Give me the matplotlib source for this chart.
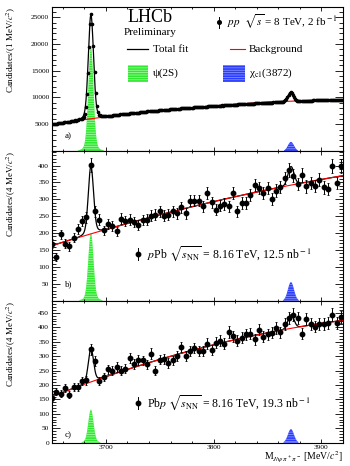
import numpy as np
import matplotlib
matplotlib.use("Agg")
import matplotlib.pyplot as plt
from matplotlib.ticker import MultipleLocator

plt.rcParams['font.family'] = ['Liberation Serif', 'DejaVu Serif']
plt.rcParams['mathtext.fontset'] = 'stix'
plt.rcParams['hatch.linewidth'] = 0.5

# mass window and binning
m_lo, m_hi = 3650, 3920

# pp 8 TeV, 1 MeV bins starting at 3650
counts_a = [
    4980, 5070, 5050, 5130, 5110, 5190, 5170, 5240, 5230, 5310,
    5290, 5360, 5350, 5430, 5410, 5480, 5470, 5550, 5540, 5600,
    5610, 5700, 5690, 5790, 5800, 5900, 5930, 6060, 6130, 6400,
    6880, 8160, 10560, 14600, 19450, 23800, 25500, 23780, 19640, 14710,
    10860, 8400, 7290, 6760, 6640, 6530, 6550, 6500, 6540, 6510,
    6540, 6520, 6580, 6560, 6620, 6600, 6650, 6680, 6670, 6720,
    6720, 6790, 6770, 6830, 6840, 6850, 6900, 6880, 6940, 6950,
    7000, 6990, 7050, 7030, 7090, 7080, 7110, 7150, 7140, 7190,
    7190, 7250, 7240, 7290, 7280, 7320, 7340, 7330, 7390, 7380,
    7420, 7400, 7460, 7470, 7490, 7520, 7500, 7560, 7550, 7600,
    7600, 7640, 7630, 7670, 7690, 7680, 7720, 7740, 7730, 7770,
    7800, 7790, 7830, 7850, 7840, 7880, 7890, 7910, 7920, 7950,
    7960, 7970, 8000, 7990, 8030, 8040, 8050, 8080, 8070, 8110,
    8120, 8130, 8150, 8170, 8160, 8200, 8190, 8230, 8220, 8260,
    8270, 8280, 8300, 8290, 8330, 8340, 8330, 8370, 8380, 8390,
    8410, 8420, 8440, 8430, 8460, 8470, 8480, 8500, 8490, 8530,
    8540, 8550, 8570, 8560, 8590, 8600, 8610, 8630, 8620, 8660,
    8670, 8680, 8690, 8710, 8700, 8730, 8740, 8750, 8760, 8780,
    8790, 8800, 8810, 8830, 8820, 8850, 8860, 8870, 8880, 8900,
    8900, 8920, 8930, 8940, 8950, 8950, 8980, 8980, 9000, 9010,
    9020, 9030, 9040, 9060, 9050, 9080, 9080, 9100, 9100, 9120,
    9130, 9140, 9150, 9180, 9200, 9300, 9450, 9720, 10070, 10490,
    10800, 10940, 10820, 10530, 10130, 9800, 9550, 9420, 9350, 9330,
    9330, 9340, 9350, 9350, 9370, 9370, 9390, 9380, 9400, 9410,
    9420, 9420, 9440, 9440, 9450, 9460, 9460, 9480, 9480, 9490,
    9500, 9500, 9510, 9520, 9520, 9530, 9540, 9540, 9550, 9560,
    9560, 9570, 9580, 9580, 9590, 9600, 9600, 9610, 9620, 9620,
]

# pPb and Pbp 8.16 TeV, 4 MeV bins centred on 3650, 3654, ...
counts_b = [
    169, 129, 196, 169, 161, 186, 213, 235, 247, 402,
    264, 240, 208, 228, 222, 205, 243, 235, 240, 232,
    225, 238, 240, 252, 255, 264, 252, 255, 264, 259,
    276, 259, 296, 296, 296, 279, 318, 291, 269, 281,
    286, 279, 318, 264, 289, 289, 313, 343, 333, 318,
    333, 301, 326, 336, 363, 387, 370, 345, 372, 338,
    348, 340, 358, 335, 330, 399, 348, 399,
]
counts_c = [
    156, 177, 170, 190, 167, 194, 194, 213, 216, 323,
    283, 213, 228, 254, 250, 262, 250, 257, 294, 273,
    286, 285, 271, 309, 250, 288, 291, 277, 285, 302,
    331, 302, 317, 329, 317, 317, 343, 321, 346, 354,
    343, 384, 369, 354, 363, 376, 378, 358, 392, 367,
    376, 381, 398, 383, 411, 433, 444, 433, 378, 429,
    412, 402, 412, 412, 415, 444, 415, 436,
]

# fit components
psi_mass, psi_sigma, psi_tail_sigma, psi_tail_frac = 3686.1, 2.35, 5.5, 0.06
x_mass, x_sigma = 3871.7, 2.8
psi_peak = [19400, 200, 115]
x_peak = [1700, 55, 47]
bkg_mass = [3650, 3785, 3920]
bkg_a = [5000, 8185, 9620]
bkg_b = [163, 282, 370]
bkg_c = [160, 325, 424]

ylabels = ["Candidates/(1 MeV/$c^2$)", "Candidates/(4 MeV/$c^2$)", "Candidates/(4 MeV/$c^2$)"]
ymax = [26900, 443, 492]
yticks = [np.arange(5000, 25001, 5000), np.arange(50, 401, 50), np.arange(0, 451, 50)]
yminor = [1000, 10, 10]
panel_tags = ["a)", "b)", "c)"]
beam_labels = [
    None,
    r"$p$Pb $\sqrt{s_{\rm NN}}$ = 8.16 TeV, 12.5 nb$^{\rm -1}$",
    r"Pb$p$ $\sqrt{s_{\rm NN}}$ = 8.16 TeV, 19.3 nb$^{\rm -1}$",
]

GREEN, GREEN_HATCH = '#2fe82f', '#b0ffb0'
BLUE, BLUE_HATCH = '#2a3cff', '#95a0ff'


def psi_shape(m):
    d = m - psi_mass
    return ((1 - psi_tail_frac) * np.exp(-0.5 * (d / psi_sigma) ** 2)
            + psi_tail_frac * np.exp(-0.5 * (d / psi_tail_sigma) ** 2))


def x_shape(m):
    return np.exp(-0.5 * ((m - x_mass) / x_sigma) ** 2)


fig = plt.figure(figsize=(3.5, 4.66), dpi=100)
left, width = 52 / 350, 291 / 350
boxes = [(1 - 151 / 466, 144 / 466), (1 - 300.7 / 466, 149.7 / 466), (1 - 442.7 / 466, 142 / 466)]
axes = [fig.add_axes([left, b, width, h]) for b, h in boxes]

mfine = np.linspace(m_lo, m_hi, 1351)
centers = [m_lo + 0.5 + np.arange(len(counts_a)), m_lo + 4 * np.arange(len(counts_b)),
           m_lo + 4 * np.arange(len(counts_c))]
data = [counts_a, counts_b, counts_c]
bkgs = [bkg_a, bkg_b, bkg_c]

for i, ax in enumerate(axes):
    coef = np.polyfit(bkg_mass, bkgs[i], 2)
    bkg = np.polyval(coef, mfine)
    sig1 = psi_peak[i] * psi_shape(mfine)
    sig2 = x_peak[i] * x_shape(mfine)

    cut = 0.004 * ymax[i]
    ax.fill_between(mfine, 0, sig1, where=sig1 > cut, facecolor=GREEN,
                    edgecolor=GREEN_HATCH, hatch='-------', linewidth=0, zorder=1)
    ax.fill_between(mfine, 0, sig2, where=sig2 > cut, facecolor=BLUE,
                    edgecolor=BLUE_HATCH, hatch='-------', linewidth=0, zorder=1)
    ax.plot(mfine, bkg + sig1 + sig2, color='black', lw=0.9, zorder=2)
    ax.plot(mfine, bkg, color='red', lw=0.8, zorder=3)

    y = np.array(data[i], dtype=float)
    ms = 1.6 if i == 0 else 3.2
    ax.errorbar(centers[i], y, yerr=np.sqrt(y), fmt='o', color='black', ms=ms,
                elinewidth=0.7, capsize=0.8 if i else 0, capthick=0.6, zorder=4)

    ax.set_xlim(m_lo, m_hi)
    ax.set_ylim(0, ymax[i])
    ax.set_yticks(yticks[i])
    ax.yaxis.set_minor_locator(MultipleLocator(yminor[i]))
    ax.xaxis.set_major_locator(MultipleLocator(100))
    ax.xaxis.set_minor_locator(MultipleLocator(20))
    ax.tick_params(which='both', direction='in', top=True, right=True, labelsize=5.3, width=0.6)
    ax.tick_params(axis='y', which='major', length=6, pad=2)
    ax.tick_params(axis='y', which='minor', length=3)
    ax.tick_params(axis='x', which='major', length=3, pad=1.8)
    ax.tick_params(axis='x', which='minor', length=1.6)
    if i < 2:
        ax.tick_params(labelbottom=False)
    for s in ax.spines.values():
        s.set_linewidth(0.8)

    ax.set_ylabel(ylabels[i], fontsize=6.5, loc='top')
    ax.yaxis.set_label_coords(-0.117, 1.0)
    ax.text(0.045, [0.104, 0.112, 0.054][i], panel_tags[i], transform=ax.transAxes,
            fontsize=6.5, va='center', ha='left')

    if beam_labels[i]:
        yb = [None, 0.312, 0.28][i]
        ax.plot([0.296], [yb], 'o', color='black', ms=3.2, transform=ax.transAxes, zorder=5)
        ax.plot([0.296, 0.296], [yb - 0.04, yb + 0.04], color='black', lw=0.7,
                transform=ax.transAxes, zorder=5)
        ax.text(0.326, yb, beam_labels[i], transform=ax.transAxes, fontsize=8.5, va='center')

# legend block of the top panel
ax = axes[0]
ax.text(0.337, 0.925, "LHCb", transform=ax.transAxes, fontsize=13, ha='center', va='center')
ax.text(0.337, 0.826, "Preliminary", transform=ax.transAxes, fontsize=8, ha='center', va='center')
ax.plot([0.574], [0.893], 'o', color='black', ms=2.6, transform=ax.transAxes)
ax.plot([0.574, 0.574], [0.855, 0.93], color='black', lw=0.7, transform=ax.transAxes)
ax.text(0.601, 0.896, r"$pp$  $\sqrt{s}$ = 8 TeV, 2 fb$^{\rm -1}$", transform=ax.transAxes,
        fontsize=8, va='center')
ax.plot([0.258, 0.330], [0.708, 0.708], color='black', lw=0.9, transform=ax.transAxes)
ax.text(0.347, 0.708, "Total fit", transform=ax.transAxes, fontsize=8, va='center')
ax.plot([0.612, 0.663], [0.708, 0.708], color='red', lw=0.8, transform=ax.transAxes)
ax.text(0.677, 0.708, "Background", transform=ax.transAxes, fontsize=8, va='center')
ax.add_patch(plt.Rectangle((0.261, 0.479), 0.069, 0.118, transform=ax.transAxes,
                           facecolor=GREEN, edgecolor=GREEN_HATCH, hatch='-------', linewidth=0))
ax.text(0.347, 0.542, "ψ(2S)", transform=ax.transAxes, fontsize=8, va='center')
ax.add_patch(plt.Rectangle((0.588, 0.479), 0.075, 0.118, transform=ax.transAxes,
                           facecolor=BLUE, edgecolor=BLUE_HATCH, hatch='-------', linewidth=0))
ax.text(0.677, 0.542, r"χ$_{\rm c1}$(3872)", transform=ax.transAxes, fontsize=8, va='center')

fig.text(0.98, 0.013, r"M$_{J/\psi\,\pi^+\pi^-}$ [MeV/$c^2$]", fontsize=7, ha='right', va='baseline')

fig.savefig("out.png", dpi=100)
